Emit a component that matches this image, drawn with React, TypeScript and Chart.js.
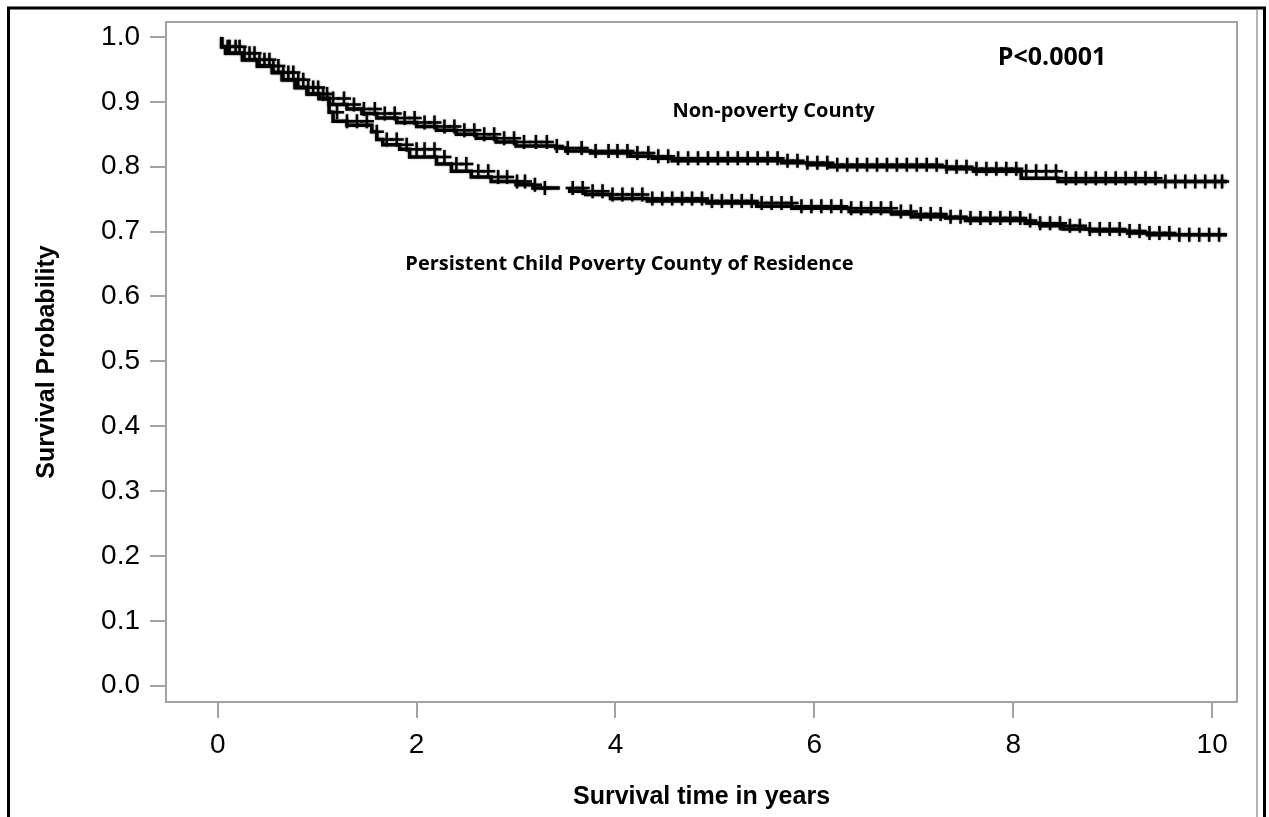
import React, { useEffect, useRef } from "react";
import { Chart, registerables } from "chart.js";

Chart.register(...registerables);

// ---------- data ----------
const X_TICKS = [0, 2, 4, 6, 8, 10];
const Y_TICKS = [0, 0.1, 0.2, 0.3, 0.4, 0.5, 0.6, 0.7, 0.8, 0.9, 1.0];

const END_TIME = 10.15;

// Non-poverty County: step times (years) and survival after each step
const UPPER_TIMES = [0.04, 0.08, 0.25, 0.4, 0.55, 0.65, 0.78, 0.9, 1.02, 1.12, 1.3, 1.45, 1.6, 1.8, 2.0, 2.2, 2.4, 2.6, 2.8, 3.0, 3.4, 3.5, 3.75, 4.15, 4.37, 4.57, 5.67, 5.93, 6.15, 7.33, 7.6, 8.08, 8.45, 9.47];
const UPPER_SURV = [1.0, 0.985, 0.975, 0.965, 0.955, 0.945, 0.934, 0.922, 0.912, 0.905, 0.896, 0.889, 0.882, 0.875, 0.868, 0.862, 0.856, 0.85, 0.844, 0.838, 0.832, 0.829, 0.824, 0.821, 0.816, 0.813, 0.809, 0.806, 0.803, 0.8, 0.797, 0.793, 0.782, 0.777];
const UPPER_CENSOR = [0.1, 0.18, 0.27, 0.37, 0.47, 0.56, 0.66, 0.76, 0.86, 0.96, 1.06, 1.16, 1.27, 1.37, 1.47, 1.58, 1.68, 1.78, 1.88, 1.98, 2.08, 2.18, 2.28, 2.38, 2.48, 2.58, 2.68, 2.78, 2.88, 2.98, 3.08, 3.2, 3.31, 3.41, 3.52, 3.66, 3.8, 3.93, 4.02, 4.12, 4.22, 4.33, 4.43, 4.53, 4.63, 4.73, 4.83, 4.93, 5.03, 5.13, 5.23, 5.33, 5.43, 5.53, 5.63, 5.73, 5.83, 5.93, 6.03, 6.13, 6.23, 6.33, 6.43, 6.53, 6.63, 6.73, 6.83, 6.93, 7.03, 7.13, 7.23, 7.33, 7.43, 7.53, 7.63, 7.73, 7.83, 7.93, 8.03, 8.13, 8.23, 8.33, 8.43, 8.53, 8.63, 8.73, 8.83, 8.93, 9.03, 9.13, 9.23, 9.33, 9.43, 9.53, 9.63, 9.73, 9.83, 9.93, 10.03, 10.1];

// Persistent Child Poverty County of Residence
const LOWER_TIMES = [0.04, 0.08, 0.25, 0.4, 0.55, 0.65, 0.78, 0.9, 1.02, 1.12, 1.16, 1.3, 1.55, 1.6, 1.66, 1.83, 1.93, 2.2, 2.35, 2.55, 2.75, 3.0, 3.17, 3.28, 3.7, 3.95, 4.32, 4.92, 5.42, 5.78, 6.35, 6.78, 6.98, 7.32, 7.52, 8.12, 8.27, 8.5, 8.77, 9.15, 9.35, 9.6];
const LOWER_SURV = [1.0, 0.985, 0.975, 0.965, 0.955, 0.945, 0.934, 0.922, 0.912, 0.905, 0.884, 0.87, 0.864, 0.854, 0.842, 0.834, 0.827, 0.815, 0.804, 0.793, 0.784, 0.777, 0.772, 0.767, 0.762, 0.757, 0.751, 0.747, 0.744, 0.739, 0.736, 0.731, 0.727, 0.723, 0.721, 0.717, 0.713, 0.709, 0.704, 0.701, 0.698, 0.695];
const LOWER_GAP = [3.44, 3.54];
const LOWER_CENSOR = [0.12, 0.22, 0.32, 0.42, 0.52, 0.61, 0.71, 0.81, 0.91, 1.01, 1.1, 1.2, 1.3, 1.4, 1.5, 1.6, 1.7, 1.8, 1.9, 2.0, 2.08, 2.18, 2.28, 2.4, 2.5, 2.62, 2.72, 2.82, 2.91, 3.01, 3.09, 3.19, 3.29, 3.57, 3.67, 3.77, 3.87, 3.97, 4.07, 4.17, 4.27, 4.37, 4.47, 4.57, 4.67, 4.77, 4.87, 4.97, 5.07, 5.17, 5.27, 5.37, 5.47, 5.57, 5.67, 5.77, 5.87, 5.97, 6.07, 6.17, 6.27, 6.37, 6.47, 6.57, 6.67, 6.77, 6.87, 6.97, 7.07, 7.17, 7.27, 7.37, 7.47, 7.57, 7.67, 7.77, 7.87, 7.97, 8.07, 8.17, 8.27, 8.37, 8.47, 8.57, 8.67, 8.77, 8.87, 8.97, 9.07, 9.17, 9.27, 9.37, 9.47, 9.57, 9.67, 9.77, 9.87, 9.97, 10.07];

const P_TEXT = "P<0.0001";
const UPPER_LABEL = "Non-poverty County";
const LOWER_LABEL = "Persistent Child Poverty County of Residence";
const X_TITLE = "Survival time in years";
const Y_TITLE = "Survival Probability";

// ---------- helpers ----------
function survivalAt(times: number[], surv: number[], t: number): number {
  let v = surv[0];
  for (let i = 0; i < times.length; i++) {
    if (times[i] <= t) v = surv[i];
    else break;
  }
  return v;
}

function stepLine(times: number[], surv: number[], gap?: number[]) {
  const pts: { x: number; y: number | null }[] = [];
  for (let i = 0; i < times.length; i++) {
    if (gap && times[i] > gap[0] && (i === 0 || times[i - 1] <= gap[0])) {
      const v = survivalAt(times, surv, gap[0]);
      pts.push({ x: gap[0], y: v });
      pts.push({ x: (gap[0] + gap[1]) / 2, y: null });
      pts.push({ x: gap[1], y: v });
    }
    pts.push({ x: times[i], y: surv[i] });
  }
  pts.push({ x: END_TIME, y: surv[surv.length - 1] });
  return pts;
}

function censorPoints(times: number[], surv: number[], cens: number[]) {
  return cens.map((t) => ({ x: t, y: survivalAt(times, surv, t) }));
}

const SANS = "'Liberation Sans', Arial, Helvetica, sans-serif";
const NOTE = "'Open Sans', 'Noto Sans', sans-serif";
const GRAY = "#a3a3a3";

const decorPlugin = {
  id: "decor",
  beforeDatasetsDraw(chart: any) {
    const { ctx } = chart;
    ctx.save();
    ctx.shadowColor = "rgba(0,0,0,0.45)";
    ctx.shadowBlur = 2;
  },
  afterDatasetsDraw(chart: any) {
    const { ctx, chartArea, scales } = chart;
    ctx.restore();
    const xs = scales.x;
    const ys = scales.y;
    ctx.save();
    // plot frame
    ctx.strokeStyle = GRAY;
    ctx.lineWidth = 2;
    ctx.strokeRect(chartArea.left, chartArea.top, chartArea.right - chartArea.left, chartArea.bottom - chartArea.top);
    // annotations
    ctx.fillStyle = "#000";
    ctx.textAlign = "center";
    ctx.textBaseline = "middle";
    ctx.font = `bold 25px ${NOTE}`;
    ctx.fillText(P_TEXT, xs.getPixelForValue(8.39), ys.getPixelForValue(0.968));
    ctx.font = `bold 20px ${NOTE}`;
    ctx.fillText(UPPER_LABEL, xs.getPixelForValue(5.59), ys.getPixelForValue(0.886));
    ctx.fillText(LOWER_LABEL, xs.getPixelForValue(4.14), ys.getPixelForValue(0.649));
    ctx.restore();
  },
  afterDraw(chart: any) {
    const { ctx, width, height } = chart;
    ctx.save();
    ctx.strokeStyle = "#000";
    ctx.lineWidth = 3;
    ctx.beginPath();
    ctx.moveTo(8.5, height + 5);
    ctx.lineTo(8.5, 8);
    ctx.lineTo(width - 4.5, 8);
    ctx.lineTo(width - 4.5, height + 5);
    ctx.stroke();
    ctx.strokeStyle = "#9a9a9a";
    ctx.lineWidth = 1.5;
    ctx.beginPath();
    ctx.moveTo(width - 12, 10);
    ctx.lineTo(width - 12, height);
    ctx.stroke();
    ctx.restore();
  },
};

export default function App() {
  const ref = useRef<HTMLCanvasElement>(null);
  useEffect(() => {
    const canvas = ref.current;
    if (!canvas) return;
    const lineStyle = {
      borderColor: "#000",
      borderWidth: 3.5,
      pointRadius: 0,
      stepped: "after" as const,
      spanGaps: false,
      fill: false,
    };
    const censorStyle = {
      showLine: false,
      pointStyle: "cross" as const,
      pointRadius: 7,
      pointBorderWidth: 2.5,
      pointBorderColor: "#000",
      pointBackgroundColor: "#000",
      borderColor: "#000",
    };
    const chart = new Chart(canvas, {
      type: "line",
      data: {
        datasets: [
          { label: UPPER_LABEL, data: stepLine(UPPER_TIMES, UPPER_SURV), ...lineStyle },
          { label: LOWER_LABEL, data: stepLine(LOWER_TIMES, LOWER_SURV, LOWER_GAP), ...lineStyle },
          { label: "censor-upper", data: censorPoints(UPPER_TIMES, UPPER_SURV, UPPER_CENSOR), ...censorStyle },
          { label: "censor-lower", data: censorPoints(LOWER_TIMES, LOWER_SURV, LOWER_CENSOR), ...censorStyle },
        ] as any,
      },
      options: {
        animation: false,
        responsive: false,
        events: [],
        layout: { padding: { top: 22, right: 32, left: 0, bottom: 0 } },
        plugins: { legend: { display: false }, tooltip: { enabled: false } },
        scales: {
          x: {
            type: "linear",
            min: -0.52,
            max: 10.25,
            afterBuildTicks: (s: any) => {
              s.ticks = X_TICKS.map((v) => ({ value: v }));
            },
            afterFit: (s: any) => {
              s.height = 115;
              s.paddingLeft = 0;
              s.paddingRight = 0;
            },
            ticks: {
              font: { family: SANS, size: 28 },
              color: "#000",
              padding: 10,
              maxRotation: 0,
              autoSkip: false,
              callback: (v: any) => String(v),
            },
            grid: { drawOnChartArea: false, drawTicks: true, tickLength: 16, color: GRAY, lineWidth: 2 },
            border: { display: false },
            title: {
              display: true,
              text: X_TITLE,
              color: "#000",
              font: { family: SANS, size: 25, weight: "bold" },
              padding: { top: 0, bottom: 5 },
            },
          },
          y: {
            type: "linear",
            min: -0.025,
            max: 1.023,
            afterBuildTicks: (s: any) => {
              s.ticks = Y_TICKS.map((v) => ({ value: v }));
            },
            afterFit: (s: any) => {
              s.width = 166;
              s.paddingTop = 0;
              s.paddingBottom = 0;
            },
            ticks: {
              font: { family: SANS, size: 28 },
              color: "#000",
              padding: 10,
              autoSkip: false,
              callback: (v: any) => Number(v).toFixed(1),
            },
            grid: { drawOnChartArea: false, drawTicks: true, tickLength: 16, color: GRAY, lineWidth: 2 },
            border: { display: false },
            title: {
              display: true,
              text: Y_TITLE,
              color: "#000",
              font: { family: SANS, size: 25, weight: "bold" },
              padding: { top: 32, bottom: 0 },
            },
          },
        },
      } as any,
      plugins: [decorPlugin],
    });
    return () => chart.destroy();
  }, []);
  return (
    <canvas
      ref={ref}
      width={1269}
      height={817}
      style={{ position: "fixed", left: 0, top: 0, width: 1269, height: 817, background: "#fff" }}
    />
  );
}
